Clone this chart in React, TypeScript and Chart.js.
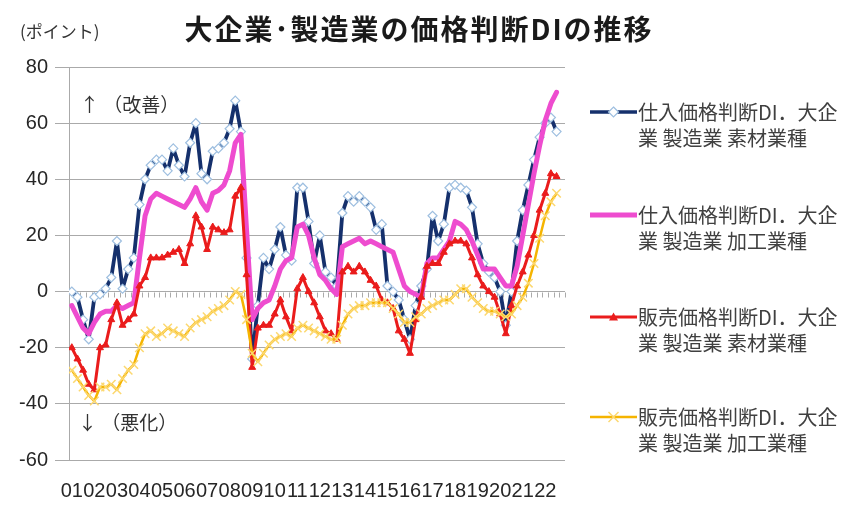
import React, { useEffect, useRef } from "react";
import { Chart, registerables } from "chart.js";

Chart.register(...registerables);

// ---- data (quarterly, 2001Q1 .. 2022Q3) ----
const yearLabels = ["01","02","03","04","05","06","07","08","09","10","11","12","13","14","15","16","17","18","19","20","21","22"];
const quarterSlots = 88; // 22 years x 4 quarters on the category axis

const inputMaterials = [
  0, -2, -10, -17, -2, -1, 1, 5, 18, 1,
  8, 12, 31, 40, 45, 47, 47, 43, 51, 45,
  41, 53, 60, 42, 40, 50, 51, 53, 58, 68,
  57, 12, -24, -5, 12, 8, 15, 23, 13, 11,
  37, 37, 25, 10, 20, 7, 5, 2, 28, 34,
  32, 34, 32, 30, 22, 24, 2, 0, -3, -10,
  -17, -5, 2, 8, 27, 18, 24, 37, 38, 37,
  36, 30, 17, 10, 7, 5, 0, -12, 0, 18,
  29, 38, 47, 55, 60, 62, 57,
];
const inputProcessing = [
  -5, -9, -13, -15, -11, -8, -7, -7, -5, -6,
  -5, -4, 12, 27, 33, 35, 34, 33, 32, 31,
  30, 33, 37, 32, 29, 35, 36, 38, 43, 53,
  56, 22, -10, -6, -4, -3, 2, 8, 11, 12,
  23, 24, 20, 12, 6, 4, 1, -1, 16, 17,
  18, 19, 17, 18, 17, 16, 15, 14, 8, 2,
  0, -1, -2, 10, 12, 12, 15, 18, 25, 24,
  22, 18, 13, 8, 8, 8, 5, 2, 2, 9,
  20, 31, 42, 52, 61, 67, 71,
];
const outputMaterials = [
  -20, -24, -28, -33, -35, -20, -19, -10, -4, -12,
  -10, -8, 2, 5, 12, 12, 12, 13, 14, 15,
  10, 17, 27, 23, 15, 23, 22, 21, 22, 34,
  37, 6, -27, -13, -12, -12, -8, -3, -9, -14,
  1, 5, 0, -4, -9, -14, -15, -17, 7, 9,
  7, 9, 7, 4, 2, -3, -4, -6, -14, -17,
  -22, -10, -2, 9, 10, 10, 14, 17, 18, 18,
  17, 12, 6, 2, 0, -2, -8, -15, -5, 2,
  7, 13, 20, 29, 35, 42, 41,
];
const outputProcessing = [
  -28, -31, -34, -37, -39, -34, -34, -33, -35, -31,
  -28, -26, -20, -15, -14, -16, -15, -13, -14, -15,
  -16, -13, -11, -10, -9, -7, -6, -5, -3, 0,
  -1, -10, -22, -25, -22, -19, -17, -16, -15, -16,
  -13, -12, -13, -14, -15, -16, -17, -17, -12, -8,
  -6, -5, -5, -4, -4, -4, -4, -6, -8, -11,
  -11, -9, -8, -6, -5, -4, -3, -3, -1, 1,
  1, -2, -4, -6, -7, -7, -8, -9, -8, -5,
  -2, 3, 10, 19, 27, 32, 35,
];

const seriesLine1 = ["仕入価格判断DI．大企", "仕入価格判断DI．大企", "販売価格判断DI．大企", "販売価格判断DI．大企"];
const seriesLine2 = ["業 製造業 素材業種", "業 製造業 加工業種", "業 製造業 素材業種", "業 製造業 加工業種"];

const NAVY = "#15306c";
const PINK = "#ee4ccf";
const RED = "#ea1c1c";
const GOLD = "#f5b400";
const GRID = "#aaaaaa";
const CJK = "'Noto Sans CJK JP', 'Noto Sans', sans-serif";

const toPoints = (arr: number[]) => arr.map((v, i) => ({ x: i + 0.5, y: v }));

const zeroTicks = {
  id: "zeroTicks",
  beforeDatasetsDraw(chart: any) {
    const { ctx, scales } = chart;
    const x = scales.x;
    const y = scales.y;
    const y0 = Math.round(y.getPixelForValue(0)) + 0.5;
    ctx.save();
    ctx.strokeStyle = GRID;
    ctx.lineWidth = 1;
    ctx.beginPath();
    for (let q = 0; q <= quarterSlots; q++) {
      const px = Math.round(x.getPixelForValue(q)) + 0.5;
      ctx.moveTo(px, y0);
      ctx.lineTo(px, y0 + 5);
    }
    ctx.stroke();
    ctx.restore();
  },
};

function LegendSample({ kind }: { kind: number }) {
  const w = 47;
  const h = 16;
  const cy = 8;
  if (kind === 0) {
    return (
      <svg width={w} height={h}>
        <line x1={0} y1={cy} x2={w} y2={cy} stroke={NAVY} strokeWidth={3.5} />
        <polygon points={`${w / 2},${cy - 5} ${w / 2 + 5},${cy} ${w / 2},${cy + 5} ${w / 2 - 5},${cy}`} fill="#fff" stroke="#9ebfe0" strokeWidth={1.2} />
      </svg>
    );
  }
  if (kind === 1) {
    return (
      <svg width={w} height={h}>
        <line x1={0} y1={cy} x2={w} y2={cy} stroke={PINK} strokeWidth={5} />
      </svg>
    );
  }
  if (kind === 2) {
    return (
      <svg width={w} height={h}>
        <line x1={0} y1={cy} x2={w} y2={cy} stroke={RED} strokeWidth={3} />
        <polygon points={`${w / 2},${cy - 4.5} ${w / 2 + 4.5},${cy + 3.5} ${w / 2 - 4.5},${cy + 3.5}`} fill={RED} />
      </svg>
    );
  }
  return (
    <svg width={w} height={h}>
      <line x1={0} y1={cy} x2={w} y2={cy} stroke={GOLD} strokeWidth={2.5} />
      <line x1={w / 2 - 5} y1={cy - 5} x2={w / 2 + 5} y2={cy + 5} stroke="#fcd870" strokeWidth={1.5} />
      <line x1={w / 2 - 5} y1={cy + 5} x2={w / 2 + 5} y2={cy - 5} stroke="#fcd870" strokeWidth={1.5} />
    </svg>
  );
}

export default function App() {
  const canvasRef = useRef<HTMLCanvasElement | null>(null);

  useEffect(() => {
    if (!canvasRef.current) return;
    const chart = new Chart(canvasRef.current, {
      type: "line",
      data: {
        datasets: [
          {
            label: seriesLine1[0] + seriesLine2[0],
            data: toPoints(inputMaterials),
            borderColor: NAVY,
            borderWidth: 3.8,
            borderJoinStyle: "round",
            pointStyle: "rectRot",
            pointRadius: 4.5,
            pointBackgroundColor: "#ffffff",
            pointBorderColor: "#9ebfe0",
            pointBorderWidth: 1.2,
            order: 4,
          },
          {
            label: seriesLine1[1] + seriesLine2[1],
            data: toPoints(inputProcessing),
            borderColor: PINK,
            borderWidth: 5,
            borderJoinStyle: "round",
            borderCapStyle: "round",
            pointRadius: 0,
            order: 3,
          },
          {
            label: seriesLine1[2] + seriesLine2[2],
            data: toPoints(outputMaterials),
            borderColor: RED,
            borderWidth: 3,
            borderJoinStyle: "round",
            pointStyle: "triangle",
            pointRadius: 4,
            pointBackgroundColor: RED,
            pointBorderColor: RED,
            pointBorderWidth: 1,
            order: 2,
          },
          {
            label: seriesLine1[3] + seriesLine2[3],
            data: toPoints(outputProcessing),
            borderColor: GOLD,
            borderWidth: 2.5,
            borderJoinStyle: "round",
            pointStyle: "crossRot",
            pointRadius: 6,
            pointBorderColor: "#fcd870",
            pointBorderWidth: 1.5,
            order: 1,
          },
        ],
      },
      options: {
        responsive: false,
        animation: false,
        layout: { padding: { left: 0, right: 286, top: 59, bottom: 0 } },
        plugins: {
          legend: { display: false },
          title: { display: false },
          tooltip: { enabled: false },
        },
        scales: {
          x: {
            type: "linear",
            min: 0,
            max: quarterSlots,
            grid: { display: false, drawTicks: false },
            border: { display: false },
            afterBuildTicks: (axis: any) => {
              // each year's label sits under its first quarter
              axis.ticks = yearLabels.map((_, k) => ({ value: 4 * k + 0.5 }));
            },
            afterFit: (s: any) => {
              s.height = 52;
            },
            ticks: {
              autoSkip: false,
              maxRotation: 0,
              minRotation: 0,
              padding: 19,
              color: "#262626",
              font: { family: "'Liberation Sans', Arial, sans-serif", size: 20 },
              callback: (_v: any, idx: number) => yearLabels[idx],
            },
          },
          y: {
            min: -60,
            max: 80,
            afterFit: (s: any) => {
              s.width = 61;
            },
            ticks: {
              stepSize: 20,
              padding: 7,
              color: "#262626",
              font: { family: "'Liberation Sans', Arial, sans-serif", size: 20 },
            },
            grid: { color: GRID, tickLength: 14, lineWidth: 1 },
            border: { display: true, color: GRID },
          },
        },
      },
      plugins: [zeroTicks],
    } as any);
    return () => chart.destroy();
  }, []);

  const legendTops = [91, 194, 296, 396];

  return (
    <div style={{ position: "relative", width: 843, height: 504, fontFamily: CJK, background: "#fff" }}>
      <canvas ref={canvasRef} width={843} height={504} style={{ position: "absolute", left: 0, top: 0 }} />
      <div style={{ position: "absolute", left: 12, top: 11, fontSize: 17, color: "#333", whiteSpace: "nowrap", lineHeight: "24px" }}>
        (ポイント)
      </div>
      <div
        style={{
          position: "absolute",
          left: 411,
          top: 2,
          transform: "translateX(-50%)",
          fontSize: 28,
          fontWeight: 700,
          letterSpacing: 2,
          color: "#1a1a1a",
          whiteSpace: "nowrap",
          lineHeight: "36px",
        }}
      >
        大企業･製造業の価格判断DIの推移
      </div>
      <div style={{ position: "absolute", left: 72, top: 83, fontSize: 19, color: "#333", whiteSpace: "pre", lineHeight: "26px" }}>
        {"↑ （改善）"}
      </div>
      <div style={{ position: "absolute", left: 70, top: 401, fontSize: 19, color: "#333", whiteSpace: "pre", lineHeight: "26px" }}>
        {"↓ （悪化）"}
      </div>
      {seriesLine1.map((t, k) => (
        <div key={k} style={{ position: "absolute", left: 582, top: legendTops[k], display: "flex", alignItems: "flex-start" }}>
          <div style={{ width: 48, height: 26, display: "flex", alignItems: "center" }}>
            <LegendSample kind={k} />
          </div>
          <div style={{ fontSize: 20, color: "#404040", lineHeight: "26px", whiteSpace: "pre" }}>
            <div>{t}</div>
            <div>{seriesLine2[k]}</div>
          </div>
        </div>
      ))}
    </div>
  );
}
